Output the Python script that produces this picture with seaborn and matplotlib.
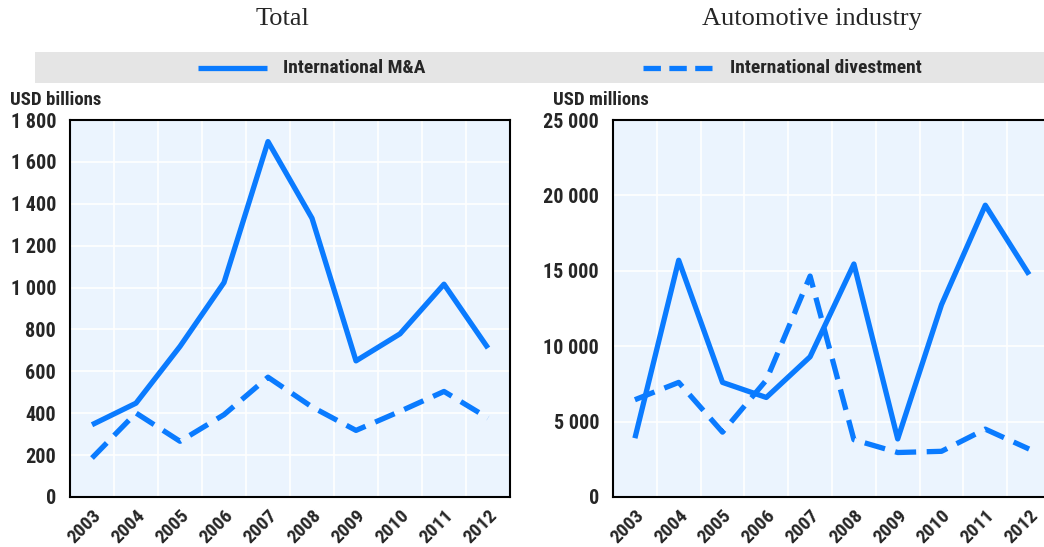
import matplotlib
matplotlib.use("Agg")
import matplotlib.pyplot as plt
from matplotlib.patches import Rectangle
from matplotlib.lines import Line2D
from matplotlib.ticker import FuncFormatter
import seaborn as sns
import pandas as pd
import numpy as np

years = ["2003", "2004", "2005", "2006", "2007", "2008", "2009", "2010", "2011", "2012"]
total_ma = [345, 448, 719, 1024, 1697, 1331, 650, 779, 1016, 711]
total_div = [186, 401, 266, 393, 572, 430, 318, 409, 504, 377]
auto_ma = [3900, 15700, 7600, 6600, 9300, 15450, 3850, 12750, 19350, 14750]
auto_div = [6450, 7600, 4300, 7750, 14650, 3800, 2950, 3030, 4500, 3180]
series_names = ["International M&A", "International divestment"]
panel_titles = ["Total", "Automotive industry"]
unit_labels = ["USD billions", "USD millions"]

sns.set_theme(style="white")
COND = ["Liberation Sans Narrow", "Roboto Condensed", "DejaVu Sans"]
SERIF = ["Liberation Serif", "DejaVu Serif"]
plt.rcParams['font.family'] = COND

BLUE = "#0A7BFF"
BG = "#EBF4FE"

fig = plt.figure(figsize=(10.44, 5.47), dpi=100)
W, H = 1044, 547

def make_df(ma, dv):
    x = list(range(len(years)))
    return pd.DataFrame({
        "x": x + x,
        "value": list(ma) + list(dv),
        "series": [series_names[0]] * len(x) + [series_names[1]] * len(x),
    })

def fmt(v, pos):
    return f"{int(round(v)):,}".replace(",", " ")

panels = [
    (total_ma, total_div, (70, 510), 1800, 200),
    (auto_ma, auto_div, (613, 1051), 25000, 5000),
]

for i, (ma, dv, (xl, xr), ymax, ystep) in enumerate(panels):
    ax = fig.add_axes([xl / W, 1 - 497 / H, (xr - xl) / W, (497 - 120) / H])
    ax.set_facecolor(BG)
    df = make_df(ma, dv)
    sns.lineplot(data=df, x="x", y="value", style="series",
                 dashes={series_names[0]: "", series_names[1]: (4, 2)},
                 color=BLUE, linewidth=3.8, legend=False, ax=ax,
                 solid_capstyle="butt", dash_capstyle="butt")
    ax.set_xlim(-0.5, len(years) - 0.5)
    ax.set_ylim(0, ymax)
    ax.set_xticks(range(len(years)))
    ax.set_xticklabels(years, rotation=45, ha="right", rotation_mode="anchor",
                       fontsize=14, fontweight="bold")
    ax.set_xticks(np.arange(0.5, len(years) - 0.5, 1), minor=True)
    ax.set_yticks(np.arange(0, ymax + 1, ystep))
    ax.yaxis.set_major_formatter(FuncFormatter(fmt))
    for lab in ax.get_yticklabels():
        lab.set_fontsize(14.5)
        lab.set_fontweight("bold")
    ax.tick_params(axis="x", which="major", length=0, pad=7)
    ax.tick_params(axis="x", which="minor", direction="in", length=5, width=1.2, color="#555555")
    ax.tick_params(axis="y", which="major", direction="in", length=5, width=1.2, color="#555555", pad=10)
    ax.grid(False)
    ax.grid(True, axis="x", which="minor", color="white", linewidth=1.2)
    ax.grid(True, axis="y", which="major", color="white", linewidth=1.2)
    ax.set_axisbelow(True)
    for sp in ax.spines.values():
        sp.set_visible(True)
        sp.set_color("black")
        sp.set_linewidth(1.5)
    ax.set_xlabel("")
    ax.set_ylabel("")
    ux = 10 if i == 0 else 553
    fig.text(ux / W, 1 - 100 / H, unit_labels[i], ha="left", va="center",
             fontsize=13.5, fontweight="bold")
    tx = 282 if i == 0 else 812
    fig.text(tx / W, 1 - 19 / H, panel_titles[i], ha="center", va="center",
             fontsize=19, family=SERIF)

fig.patches.append(Rectangle((35 / W, 1 - 83 / H), (W - 35) / W, 31 / H,
                             transform=fig.transFigure, facecolor="#E5E5E5",
                             edgecolor="none", zorder=0))
ly = 1 - 68 / H
fig.lines.append(Line2D([198 / W, 267 / W], [ly, ly], transform=fig.transFigure,
                        color=BLUE, linewidth=3.8, solid_capstyle="butt"))
fig.text(283 / W, ly, series_names[0], ha="left", va="center", fontsize=14, fontweight="bold")
fig.lines.append(Line2D([643 / W, 712 / W], [ly, ly], transform=fig.transFigure,
                        color=BLUE, linewidth=3.8, dashes=(3.3, 1.6), dash_capstyle="butt"))
fig.text(730 / W, ly, series_names[1], ha="left", va="center", fontsize=14, fontweight="bold")

fig.savefig("out.png", dpi=100)
